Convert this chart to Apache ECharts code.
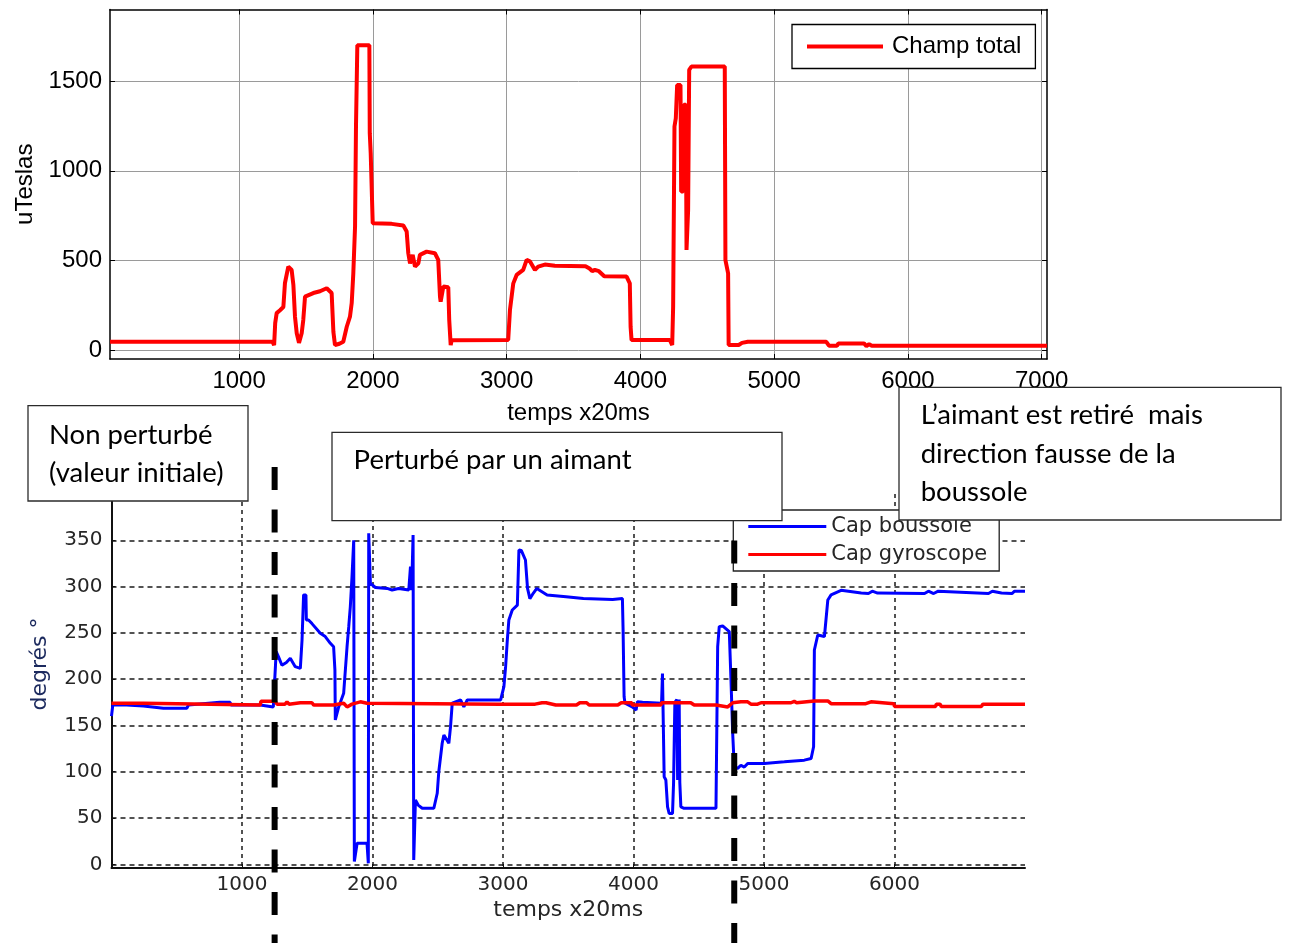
<!DOCTYPE html>
<html>
<head>
<meta charset="utf-8">
<script src="https://cdn.jsdelivr.net/npm/echarts@6/dist/echarts.min.js"></script>
<style>
html,body{margin:0;padding:0;background:#fff;}
#main{width:1291px;height:943px;}
</style>
</head>
<body>
<div id="main"></div>
<script>
// ---------- DATA ----------
const champTime = [35,1250,1262,1270,1281,1306,1331,1343,1368,1393,1406,1418,1431,1448,1468,1480,1493,1506,1555,1605,1655,1692,1705,1717,1750,1779,1805,1829,1842,1854,1867,1874,1884,1974,1977,1984,1999,2141,2153,2228,2253,2265,2278,2298,2315,2340,2352,2402,2464,2489,2502,2507,2527,2564,2571,2582,2589,3012,3025,3050,3075,3124,3150,3174,3212,3236,3286,3361,3590,3620,3640,3660,3690,3730,3897,3921,3927,3934,4220,4238,4245,4255,4265,4275,4300,4305,4320,4325,4340,4345,4357,4365,4382,4631,4636,4656,4660,4735,4760,4803,5390,5410,5470,5480,5672,5690,5710,5730,7040];
const champValues = [46,46,27,150,206,222,240,374,465,447,363,186,94,40,94,168,298,309,318,328,345,318,102,28,35,46,130,186,262,428,689,1248,1700,1700,1210,1099,708,704,695,695,661,540,484,531,465,484,531,549,540,503,298,270,354,350,168,28,55,56,223,372,419,447,503,495,447,465,477,470,468,455,440,447,440,412,410,372,130,56,56,28,242,1247,1293,1479,1479,884,884,1368,1368,558,781,1563,1582,1582,502,428,28,28,40,46,46,24,24,37,37,22,33,24,24];

const boussoleTime = [0,10,116,120,244,250,398,577,590,830,909,915,1140,1150,1240,1255,1262,1270,1280,1306,1340,1370,1408,1447,1460,1472,1490,1493,1510,1536,1600,1638,1677,1702,1712,1715,1741,1779,1805,1818,1830,1843,1856,1861,1882,1958,1968,1971,1984,2022,2112,2150,2200,2278,2291,2300,2311,2316,2329,2350,2381,2470,2496,2508,2534,2547,2585,2598,2611,2675,2700,2726,2982,3007,3020,3033,3045,3071,3110,3122,3140,3153,3172,3188,3206,3233,3259,3338,3483,3616,3840,3915,3920,3928,3935,3990,4020,4030,4069,4215,4222,4230,4235,4248,4261,4273,4299,4307,4317,4332,4338,4350,4355,4363,4388,4632,4645,4657,4683,4734,4747,4760,4772,4798,4823,4849,4875,5002,5156,5309,5361,5380,5386,5412,5463,5489,5514,5591,5745,5760,5800,5830,5870,5880,6230,6260,6300,6335,6720,6750,6820,6900,6920,7000];
const boussoleValues = [160,172,172,171,171,172,168.5,168.5,172,175,175,172,172,170,170,168,229.7,229,224,215,218,222.5,213.5,211.7,242,291,291,264,264,260,249.5,246,238.7,235,210,156,170,184.7,235,256.7,278,310.7,350,3,22.7,22.7,1,357.5,303.5,299,298,296.3,298,296.3,321.5,296,355.7,4.6,69.5,64,60.5,60.5,76.7,100,130.7,139.7,130.7,148.7,174,177.5,170,177.5,177.5,191.9,213.5,242,264,274.7,280,339.5,339,341,328.7,298,287,293,298,291,289,287,286,287,255,181,174,170,166.7,175.6,175,174,206,206,94.6,91,62,55,55,88,175,178,91,178,88,62,60.5,60.5,235,256.7,257.5,251.4,199,141.8,105.4,103.6,107,105,109,109,110.7,112.5,114.3,127,231.5,247.7,246,285.5,291,296,293,295,292.5,295,293,295,292.5,295,292.5,295,292.5,295,293,292.5,295,295];

const gyroTime = [0,244,250,1140,1145,1255,1268,1330,1345,1360,1447,1536,1550,1702,1715,1779,1805,1843,1907,1958,2982,3246,3299,3330,3404,3563,3589,3641,3660,3880,3906,3986,3990,4209,4215,4439,4465,4632,4640,4722,4760,4823,4875,4900,4951,4977,5207,5232,5250,5386,5489,5514,5780,5785,5820,5825,5995,6000,6315,6320,6350,6358,6665,6678,7000];
const gyroValues = [174,174,172,172,176,176,173,173,175.5,173,174.5,174.5,172,172,174,174,170,173,175.5,174,173,173,174.5,174.5,172,172,174.5,174.5,172,172,174.5,174.5,172,172,174.5,174.5,172,172,170,170,174.5,175.5,175.5,173,173,174.5,174.5,176,174.5,176.5,176.5,173.5,173.5,175.5,175.5,173.5,173.5,170.5,170.5,173,173,170.5,170.5,173,173];

const topXTicks = [1000,2000,3000,4000,5000,6000,7000];
const topYTicks = [0,500,1000,1500];
const bottomXTicks = [1000,2000,3000,4000,5000,6000];
const bottomYTicks = [0,50,100,150,200,250,300,350];
const markerTimes = [1250, 4772];

// ---------- CHART ----------
const zip = (t, v) => t.map((x, i) => [x, v[i]]);
const chart = echarts.init(document.getElementById('main'), null, {renderer: 'canvas'});

const topFont = 'Liberation Sans, Arial, sans-serif';
const botFont = 'DejaVu Sans, Verdana, sans-serif';
const plain = v => String(v);

const option = {
  animation: false,
  backgroundColor: '#ffffff',
  grid: [
    {left: 110, top: 9.5, width: 937, height: 349.5, outerBoundsMode: 'none', containLabel: false},
    {left: 111.5, top: 494, width: 913.5, height: 374, outerBoundsMode: 'none', containLabel: false}
  ],
  legend: [
    {
      data: ['Champ total'], left: 792, top: 24.5, orient: 'vertical',
      padding: [8, 14, 8, 15], itemWidth: 76, itemHeight: 4, icon: 'rect',
      selectedMode: false, backgroundColor: '#fff', borderColor: '#000', borderWidth: 1.3,
      textStyle: {fontFamily: topFont, fontSize: 24, color: '#000', lineHeight: 28, padding: [0, 0, 0, 4]}
    },
    {
      data: ['Cap boussole', 'Cap gyroscope'], left: 733.3, top: 510, orient: 'vertical',
      padding: [6, 12, 6, 15], itemWidth: 78, itemHeight: 3, itemGap: 7, icon: 'rect',
      selectedMode: false, backgroundColor: '#fff', borderColor: '#222', borderWidth: 1.3,
      textStyle: {fontFamily: botFont, fontSize: 21, color: '#262626', lineHeight: 21}
    }
  ],
  xAxis: [
    {
      gridIndex: 0, type: 'value', min: 35, max: 7040, position: 'bottom',
      name: 'temps x20ms', nameLocation: 'middle', nameGap: 42,
      nameTextStyle: {fontFamily: topFont, fontSize: 24, color: '#000'},
      axisLine: {show: true, onZero: false, lineStyle: {color: '#000', width: 1.5}},
      axisTick: {show: true, inside: true, length: 5, customValues: topXTicks, lineStyle: {color: '#000'}},
      axisLabel: {customValues: topXTicks, formatter: plain, fontFamily: topFont, fontSize: 24, color: '#000', margin: 10},
      splitLine: {show: true, lineStyle: {color: '#9a9a9a', width: 1}}
    },
    {
      gridIndex: 0, type: 'value', min: 35, max: 7040, position: 'top',
      axisLine: {show: true, onZero: false, lineStyle: {color: '#000', width: 1.5}},
      axisTick: {show: true, inside: true, length: 5, customValues: topXTicks, lineStyle: {color: '#000'}},
      axisLabel: {show: false}, splitLine: {show: false}
    },
    {
      gridIndex: 1, type: 'value', min: 0, max: 7000, position: 'bottom',
      name: 'temps x20ms', nameLocation: 'middle', nameGap: 31,
      nameTextStyle: {fontFamily: botFont, fontSize: 22, color: '#262626'},
      axisLine: {show: true, onZero: false, lineStyle: {color: '#111', width: 2}},
      axisTick: {show: true, inside: true, length: 4, customValues: bottomXTicks, lineStyle: {color: '#111'}},
      axisLabel: {customValues: bottomXTicks, formatter: plain, fontFamily: botFont, fontSize: 20, color: '#262626', margin: 7},
      splitLine: {show: true, lineStyle: {color: '#1a1a1a', width: 1.5, type: [4, 4]}}
    }
  ],
  yAxis: [
    {
      gridIndex: 0, type: 'value', min: -50, max: 1900, position: 'left',
      name: 'uTeslas', nameLocation: 'middle', nameGap: 73,
      nameTextStyle: {fontFamily: topFont, fontSize: 24, color: '#000'},
      axisLine: {show: true, onZero: false, lineStyle: {color: '#000', width: 1.5}},
      axisTick: {show: true, inside: true, length: 5, customValues: topYTicks, lineStyle: {color: '#000'}},
      axisLabel: {customValues: topYTicks, formatter: plain, fontFamily: topFont, fontSize: 24, color: '#000', margin: 8},
      splitLine: {show: true, lineStyle: {color: '#9a9a9a', width: 1}}
    },
    {
      gridIndex: 0, type: 'value', min: -50, max: 1900, position: 'right',
      axisLine: {show: true, onZero: false, lineStyle: {color: '#000', width: 1.5}},
      axisTick: {show: true, inside: true, length: 5, customValues: topYTicks, lineStyle: {color: '#000'}},
      axisLabel: {show: false}, splitLine: {show: false}
    },
    {
      gridIndex: 1, type: 'value', min: -4, max: 400, position: 'left',
      name: 'degrés °', nameLocation: 'middle', nameGap: 60,
      nameTextStyle: {fontFamily: botFont, fontSize: 22, color: '#1c2a5e', padding: [0, 0, 0, 34]},
      axisLine: {show: true, onZero: false, lineStyle: {color: '#111', width: 2}},
      axisTick: {show: true, inside: true, length: 4, customValues: bottomYTicks, lineStyle: {color: '#111'}},
      axisLabel: {customValues: bottomYTicks, formatter: plain, fontFamily: botFont, fontSize: 20, color: '#262626', margin: 9},
      splitLine: {show: true, lineStyle: {color: '#1a1a1a', width: 1.5, type: [5, 4]}}
    }
  ],
  series: [
    {
      name: 'Champ total', type: 'line', xAxisIndex: 0, yAxisIndex: 0,
      data: zip(champTime, champValues), showSymbol: false, symbol: 'none',
      color: '#ff0000', lineStyle: {color: '#ff0000', width: 4}, z: 3
    },
    {
      name: 'Cap boussole', type: 'line', xAxisIndex: 2, yAxisIndex: 2,
      data: zip(boussoleTime, boussoleValues), showSymbol: false, symbol: 'none',
      color: '#0000ff', lineStyle: {color: '#0000ff', width: 3}, z: 3
    },
    {
      name: 'Cap gyroscope', type: 'line', xAxisIndex: 2, yAxisIndex: 2,
      data: zip(gyroTime, gyroValues), showSymbol: false, symbol: 'none',
      color: '#ff0000', lineStyle: {color: '#ff0000', width: 3.5}, z: 4
    }
  ]
};
chart.setOption(option);

// ---------- ANNOTATIONS ----------
const boxFont = '27.5px Lato, "Open Sans", sans-serif';
function textBox(x, y, w, h, lines, tx, baselines) {
  const els = [{
    type: 'rect', z: 120, shape: {x: x, y: y, width: w, height: h},
    style: {fill: '#fff', stroke: '#2b2b2b', lineWidth: 1.3}
  }];
  lines.forEach((s, i) => {
    els.push({
      type: 'text', z: 121, x: tx, y: baselines[i] - 9.5,
      style: {text: s, font: boxFont, fill: '#000', verticalAlign: 'middle', align: 'left'}
    });
  });
  return els;
}

const markerTops = [467, 498];
const markers = markerTimes.map((t, i) => {
  const px = chart.convertToPixel({xAxisIndex: 2}, t);
  return {
    type: 'line', z: 110,
    shape: {x1: px, y1: markerTops[i], x2: px, y2: 943},
    style: {stroke: '#000', lineWidth: 6, lineDash: [23, 19.5]}
  };
});

chart.setOption({
  graphic: {
    elements: [].concat(
      markers,
      textBox(28, 405.7, 220, 95.3, ['Non perturbé', '(valeur initiale)'], 49, [445, 482.5]),
      textBox(332, 432.3, 450, 88.4, ['Perturbé par un aimant'], 353.6, [470]),
      textBox(899, 387.3, 382, 132.7, ['L\u2019aimant est retiré  mais', 'direction fausse de la', 'boussole'], 920.7, [425, 463.3, 501.7])
    )
  }
});
</script>
</body>
</html>
